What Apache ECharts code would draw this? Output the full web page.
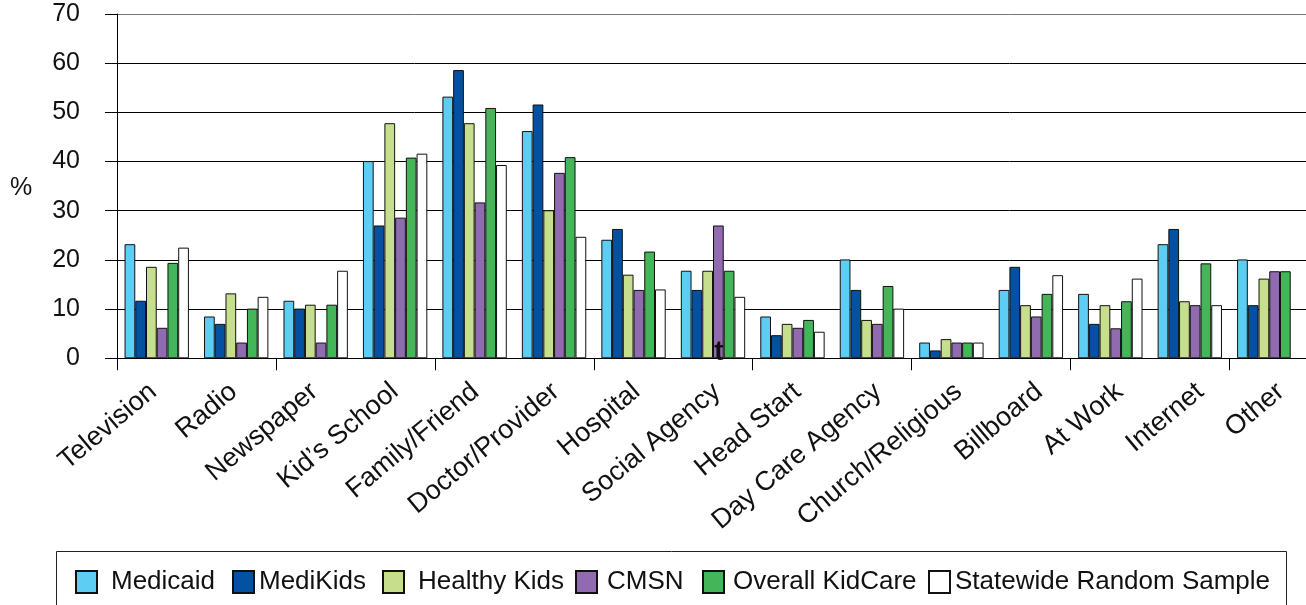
<!DOCTYPE html>
<html>
<head>
<meta charset="utf-8">
<script src="https://cdn.jsdelivr.net/npm/echarts@6/dist/echarts.min.js"></script>
<style>
html,body{margin:0;padding:0;background:#fff;}
#chart{width:1306px;height:605px;}
</style>
</head>
<body>
<div id="chart"></div>
<script>
const categories = ['Television','Radio','Newspaper','Kid\u2019s School','Family/Friend','Doctor/Provider','Hospital','Social Agency','Head Start','Day Care Agency','Church/Religious','Billboard','At Work','Internet','Other'];
const seriesNames = ['Medicaid','MediKids','Healthy Kids','CMSN','Overall KidCare','Statewide Random Sample'];
const medicaid   = [23.2, 8.5, 11.7, 40.1, 53.2, 46.2, 24.1, 17.8, 8.5, 20.1, 3.2, 13.9, 13.1, 23.2, 20.1];
const mediKids   = [11.7, 7.0, 10.1, 27.0, 58.6, 51.6, 26.3, 13.9, 4.7, 13.9, 1.6, 18.6, 7.0, 26.3, 10.8];
const healthyKids= [18.6, 13.2, 10.9, 47.8, 47.8, 30.1, 17.0, 17.8, 7.0, 7.8, 3.9, 10.8, 10.8, 11.6, 16.2];
const cmsn       = [6.2, 3.2, 3.2, 28.6, 31.7, 37.7, 13.9, 27.0, 6.2, 7.0, 3.2, 8.5, 6.1, 10.8, 17.7];
const overall    = [19.4, 10.1, 10.9, 40.8, 50.9, 40.9, 21.7, 17.8, 7.8, 14.7, 3.2, 13.1, 11.6, 19.3, 17.7];
const statewide  = [22.5, 12.5, 17.8, 41.6, 39.3, 24.7, 14.0, 12.5, 5.4, 10.1, 3.2, 16.9, 16.2, 10.8, null];
const yTicks = [0, 10, 20, 30, 40, 50, 60, 70];

const seriesData = [medicaid, mediKids, healthyKids, cmsn, overall, statewide];
const colors = ['#5ECDF4', '#0450A1', '#C7DF8D', '#906BB0', '#45B55A', '#FFFFFF'];
const FONT = '"Liberation Sans", Arial, sans-serif';

const chart = echarts.init(document.getElementById('chart'), null, {renderer: 'canvas'});

const legendLeft = [75, 232, 382, 575, 702, 928];
const legendPad  = [9, 0, 9, 5, 4, 0];

const legends = seriesNames.map((n, i) => ({
  data: [n],
  left: legendLeft[i],
  top: 569,
  padding: 0,
  itemWidth: 21,
  itemHeight: 22,
  icon: 'rect',
  selectedMode: false,
  textStyle: {fontSize: 26, color: '#111', fontFamily: FONT, padding: [0, 0, 0, legendPad[i]]}
}));

const option = {
  animation: false,
  backgroundColor: '#fff',
  textStyle: {fontFamily: FONT},
  legend: legends,
  grid: [
    {left: 117, top: 14, right: -3, bottom: 246.7, containLabel: false, outerBoundsMode: 'none'},
    {left: 113, top: 14, right: -15, bottom: 246.7, containLabel: false, outerBoundsMode: 'none'}
  ],
  xAxis: [
    {
      type: 'category', gridIndex: 0, data: categories,
      axisLine: {show: true, lineStyle: {color: '#000', width: 1}},
      axisTick: {show: true, inside: false, length: 12, alignWithLabel: false, lineStyle: {color: '#000'}},
      axisLabel: {show: false},
      splitLine: {show: false}
    },
    {
      type: 'category', gridIndex: 1, data: categories,
      axisLine: {show: false}, axisTick: {show: false}, splitLine: {show: false},
      axisLabel: {show: true, interval: 0, rotate: 40, margin: 30, fontSize: 27, color: '#111', fontFamily: FONT}
    }
  ],
  yAxis: [
    {
      type: 'value', gridIndex: 0, min: 0, max: 70, interval: 10,
      axisLine: {show: true, lineStyle: {color: '#000', width: 1}},
      axisTick: {show: true, inside: false, length: 12, lineStyle: {color: '#000'}},
      axisLabel: {show: true, margin: 37, fontSize: 25, color: '#111', fontFamily: FONT,
        formatter: v => (yTicks.indexOf(v) >= 0 ? String(v) : '')},
      splitLine: {show: true, lineStyle: {color: ['#000','#000','#000','#000','#000','#000','#000','#777'], width: 1}}
    },
    {type: 'value', gridIndex: 1, min: 0, max: 70, show: false}
  ],
  series: seriesNames.map((n, i) => ({
    name: n,
    type: 'bar',
    xAxisIndex: 0, yAxisIndex: 0,
    data: seriesData[i],
    barGap: '0%',
    barCategoryGap: '19%',
    itemStyle: {color: colors[i], borderColor: '#111', borderWidth: 1}
  })),
  graphic: [
    {type: 'text', left: 10, top: 176, z: 100, style: {text: '%', fontSize: 25, fill: '#111', fontFamily: FONT}},
    {type: 'text', x: 719, y: 338, z: 100, zlevel: 0, style: {text: 't', fontSize: 28, fill: '#111', fontFamily: FONT, fontWeight: 'bold', align: 'center', verticalAlign: 'top'}},
    {type: 'rect', z: 100, shape: {x: 56.5, y: 551.5, width: 1230, height: 80}, style: {fill: 'none', stroke: '#222', lineWidth: 1}}
  ]
};
chart.setOption(option);
</script>
</body>
</html>
